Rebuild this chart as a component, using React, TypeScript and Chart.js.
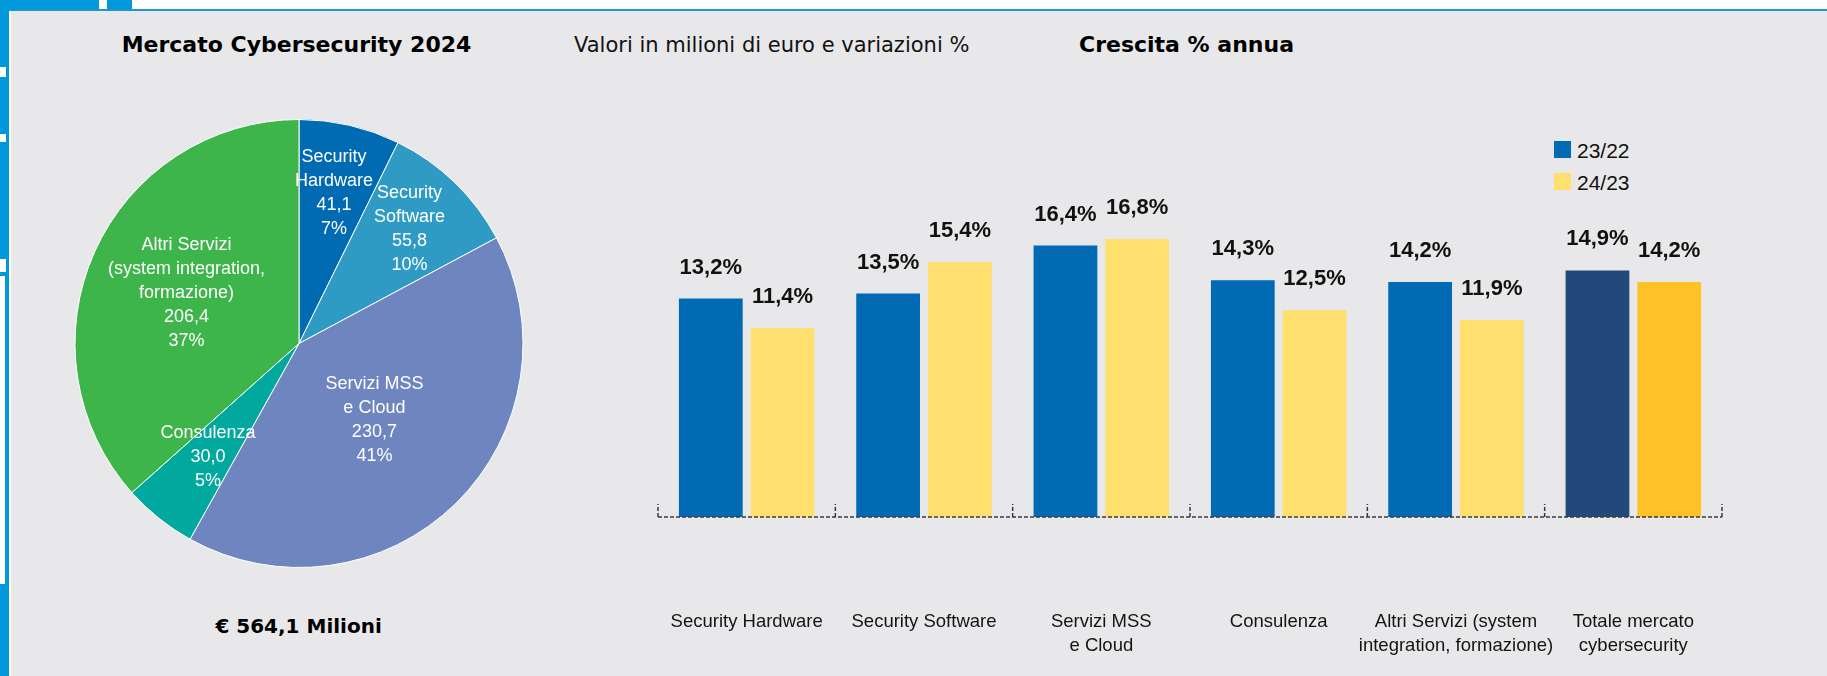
import React, { useEffect, useRef } from 'react';
import { Chart, registerables } from 'chart.js';

Chart.register(...registerables);

// ---------- DATA ----------
const pieCategories = [
  'Security Hardware',
  'Security Software',
  'Servizi MSS e Cloud',
  'Consulenza',
  'Altri Servizi (system integration, formazione)',
];
const pieLabelLines = [
  ['Security', 'Hardware'],
  ['Security', 'Software'],
  ['Servizi MSS', 'e Cloud'],
  ['Consulenza'],
  ['Altri Servizi', '(system integration,', 'formazione)'],
];
const pieValues = [41.1, 55.8, 230.7, 30.0, 206.4];
const marketTotal = 564.1;

const barCategories = [
  ['Security Hardware'],
  ['Security Software'],
  ['Servizi MSS', 'e Cloud'],
  ['Consulenza'],
  ['Altri Servizi (system', 'integration, formazione)'],
  ['Totale mercato', 'cybersecurity'],
];
const growth2322 = [13.2, 13.5, 16.4, 14.3, 14.2, 14.9];
const growth2423 = [11.4, 15.4, 16.8, 12.5, 11.9, 14.2];
const seriesNames = ['23/22', '24/23'];

// ---------- STYLE ----------
const pieColors = ['#006AB3', '#2F9AC3', '#6F85C0', '#00A89D', '#3DB54A'];
const pieLabelRadius = [0.69, 0.71, 0.48, 0.65, 0.55];
const blue = '#006BB4';
const yellow = '#FFDF6D';
const navy = '#23497A';
const gold = '#FEC126';
const panelBg = '#E8E8EA';
const frameBlue = '#0099DB';

const fmt = (v: number) => v.toFixed(1).replace('.', ',');

const pieLabelPlugin = {
  id: 'pieLabels',
  afterDatasetsDraw(chart: any) {
    const { ctx } = chart;
    const meta = chart.getDatasetMeta(0);
    const vals: number[] = chart.data.datasets[0].data;
    const sum = vals.reduce((a, b) => a + b, 0);
    ctx.save();
    ctx.fillStyle = '#ffffff';
    ctx.font = '18px "Liberation Sans", Arial, sans-serif';
    ctx.textAlign = 'center';
    ctx.textBaseline = 'middle';
    const lh = 24;
    meta.data.forEach((arc: any, i: number) => {
      const mid = (arc.startAngle + arc.endAngle) / 2;
      const r = arc.outerRadius * pieLabelRadius[i];
      const cx = arc.x + Math.cos(mid) * r;
      const cy = arc.y + Math.sin(mid) * r;
      const lines = [...pieLabelLines[i], fmt(vals[i]), Math.round((vals[i] / sum) * 100) + '%'];
      const y0 = cy - ((lines.length - 1) * lh) / 2;
      lines.forEach((t, k) => ctx.fillText(t, cx, y0 + k * lh));
    });
    ctx.restore();
  },
};

const barDecorPlugin = {
  id: 'barDecor',
  afterDatasetsDraw(chart: any) {
    const { ctx } = chart;
    const xs = chart.scales.x;
    const ys = chart.scales.y;
    const y0 = ys.getPixelForValue(0);
    const n = chart.data.labels.length;
    ctx.save();
    ctx.strokeStyle = '#3a3a3a';
    ctx.lineWidth = 1.5;
    ctx.setLineDash([4, 2]);
    const left = xs.getPixelForValue(-0.5);
    const right = xs.getPixelForValue(n - 0.5);
    ctx.beginPath();
    ctx.moveTo(left, y0);
    ctx.lineTo(right, y0);
    ctx.stroke();
    for (let i = 0; i <= n; i++) {
      const px = xs.getPixelForValue(i - 0.5);
      ctx.beginPath();
      ctx.moveTo(px, y0);
      ctx.lineTo(px, y0 - 13);
      ctx.stroke();
    }
    ctx.setLineDash([]);
    // value labels
    ctx.fillStyle = '#111111';
    ctx.font = 'bold 22px "Liberation Sans", Arial, sans-serif';
    ctx.textAlign = 'center';
    ctx.textBaseline = 'alphabetic';
    chart.data.datasets.forEach((ds: any, di: number) => {
      const meta = chart.getDatasetMeta(di);
      meta.data.forEach((el: any, i: number) => {
        ctx.fillText(fmt(ds.data[i]) + '%', el.x, el.y - 25);
      });
    });
    ctx.restore();
  },
};

export default function App() {
  const pieRef = useRef<HTMLCanvasElement>(null);
  const barRef = useRef<HTMLCanvasElement>(null);

  useEffect(() => {
    const pie = new Chart(pieRef.current as HTMLCanvasElement, {
      type: 'pie',
      data: {
        labels: pieCategories,
        datasets: [
          {
            data: pieValues,
            backgroundColor: pieColors,
            borderColor: '#ffffff',
            borderWidth: 1,
          },
        ],
      },
      options: {
        responsive: false,
        animation: false,
        devicePixelRatio: 1,
        layout: { padding: { left: 74, top: 119, right: 76, bottom: 108 } },
        plugins: { legend: { display: false }, tooltip: { enabled: false } },
      },
      plugins: [pieLabelPlugin],
    } as any);

    const tickPad = 93;
    const lineH = 24;
    const bar = new Chart(barRef.current as HTMLCanvasElement, {
      type: 'bar',
      data: {
        labels: barCategories,
        datasets: [
          {
            label: seriesNames[0],
            data: growth2322,
            backgroundColor: [blue, blue, blue, blue, blue, navy],
            categoryPercentage: 0.809,
            barPercentage: 0.889,
          },
          {
            label: seriesNames[1],
            data: growth2423,
            backgroundColor: [yellow, yellow, yellow, yellow, yellow, gold],
            categoryPercentage: 0.809,
            barPercentage: 0.889,
          },
        ],
      },
      options: {
        responsive: false,
        animation: false,
        devicePixelRatio: 1,
        layout: { padding: { left: 58, right: 105, top: 186, bottom: 18 } },
        plugins: { legend: { display: false }, tooltip: { enabled: false } },
        scales: {
          x: {
            grid: { display: false, drawTicks: false },
            border: { display: false },
            afterFit: (scale: any) => {
              scale.paddingLeft = 0;
              scale.paddingRight = 0;
              scale.height = tickPad + 2 * lineH;
            },
            ticks: {
              padding: tickPad,
              color: '#141414',
              maxRotation: 0,
              autoSkip: false,
              font: { family: '"Liberation Sans", Arial, sans-serif', size: 18.5, lineHeight: lineH + 'px' },
            },
          },
          y: { display: false, min: 0, max: 20 },
        },
      },
      plugins: [barDecorPlugin],
    } as any);

    return () => {
      pie.destroy();
      bar.destroy();
    };
  }, []);

  const abs = (s: React.CSSProperties): React.CSSProperties => ({ position: 'absolute', ...s });

  return (
    <div style={{ position: 'absolute', left: 0, top: 0, width: 1827, height: 676, background: '#ffffff', overflow: 'hidden' }}>
      {/* frame */}
      <div style={abs({ left: 11, top: 11, width: 1816, height: 665, background: panelBg })} />
      <div style={abs({ left: 0, top: 0, width: 99, height: 10, background: frameBlue })} />
      <div style={abs({ left: 107, top: 0, width: 25, height: 10, background: frameBlue })} />
      <div style={abs({ left: 9, top: 9, width: 1818, height: 2, background: '#1B97D4' })} />
      <div style={abs({ left: 0, top: 0, width: 9, height: 676, background: frameBlue })} />
      <div style={abs({ left: 0, top: 67, width: 6, height: 10, background: '#ffffff' })} />
      <div style={abs({ left: 0, top: 134, width: 6, height: 8, background: '#ffffff' })} />
      <div style={abs({ left: 0, top: 259, width: 6, height: 13, background: '#ffffff' })} />
      <div style={abs({ left: 0, top: 276, width: 5, height: 308, background: '#ffffff' })} />

      {/* texts */}
      <div style={abs({ left: 296.5, top: 34.4, transform: 'translateX(-50%)', whiteSpace: 'nowrap', font: 'bold 22px/22px "DejaVu Sans", sans-serif', color: '#000' })}>
        Mercato Cybersecurity 2024
      </div>
      <div style={abs({ left: 574, top: 35.2, whiteSpace: 'nowrap', font: '21px/21px "DejaVu Sans", sans-serif', color: '#111' })}>
        Valori in milioni di euro e variazioni %
      </div>
      <div style={abs({ left: 1079, top: 34.4, whiteSpace: 'nowrap', font: 'bold 22px/22px "DejaVu Sans", sans-serif', color: '#000' })}>
        Crescita % annua
      </div>
      <div style={abs({ left: 298.6, top: 616, transform: 'translateX(-50%)', whiteSpace: 'nowrap', font: 'bold 20px/20px "DejaVu Sans", sans-serif', color: '#000' })}>
        € {fmt(marketTotal)} Milioni
      </div>

      {/* legend */}
      <div style={abs({ left: 1554, top: 141, width: 17, height: 17, background: blue })} />
      <div style={abs({ left: 1577, top: 140, whiteSpace: 'nowrap', font: '21px/21px "Liberation Sans", Arial, sans-serif', color: '#111' })}>
        {seriesNames[0]}
      </div>
      <div style={abs({ left: 1554, top: 173, width: 17, height: 17, background: yellow })} />
      <div style={abs({ left: 1577, top: 172, whiteSpace: 'nowrap', font: '21px/21px "Liberation Sans", Arial, sans-serif', color: '#111' })}>
        {seriesNames[1]}
      </div>

      {/* charts */}
      <canvas ref={pieRef} width={600} height={676} style={abs({ left: 0, top: 0, width: 600, height: 676 })} />
      <canvas ref={barRef} width={1227} height={676} style={abs({ left: 600, top: 0, width: 1227, height: 676 })} />
    </div>
  );
}
